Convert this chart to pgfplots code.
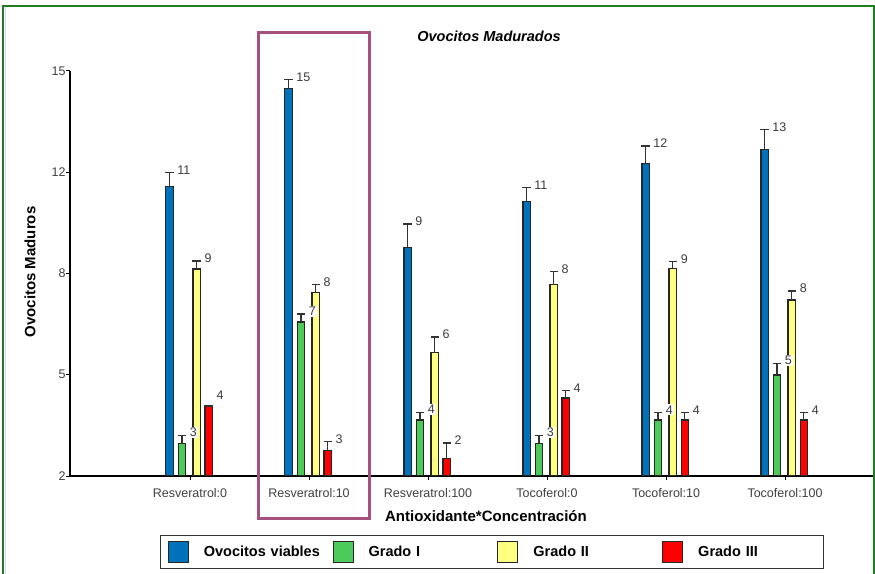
\documentclass[border=0pt]{standalone}
\usepackage{pgfplots}
\usepackage{pgfplotstable}
\pgfplotsset{compat=1.18}
\usepackage{fontspec}
\setmainfont{Liberation Sans}
\definecolor{cblue}{HTML}{0072BC}
\definecolor{cgreen}{HTML}{4CCB5A}
\definecolor{cyellow}{HTML}{FFFF80}
\definecolor{cred}{HTML}{FF0000}
\definecolor{cframe}{HTML}{A5507D}
\definecolor{cborder}{HTML}{1E7D1E}
\definecolor{labgray}{HTML}{3C3C3C}
\definecolor{edge}{HTML}{262626}

\pgfplotstableread{
x y err top lab
0 11.29 0.46 11.75 11
1 14.43 0.29 14.72 15
2 9.34 0.75 10.09 9
3 10.81 0.45 11.26 11
4 12.04 0.55 12.59 12
5 12.49 0.62 13.11 13
}\viables
\pgfplotstableread{
x y err top lab
0 3.05 0.26 3.31 3
1 6.94 0.26 7.20 7
2 3.80 0.25 4.05 4
3 3.05 0.26 3.31 3
4 3.80 0.24 4.04 4
5 5.24 0.38 5.62 5
}\gradoI
\pgfplotstableread{
x y err top lab
0 8.64 0.26 8.90 9
1 7.88 0.27 8.15 8
2 5.96 0.50 6.46 6
3 8.14 0.43 8.57 8
4 8.65 0.23 8.88 9
5 7.65 0.29 7.94 8
}\gradoII
\pgfplotstableread{
x y err top lab
0 4.25 0.00 4.50 4
1 2.81 0.29 3.10 3
2 2.56 0.50 3.06 2
3 4.50 0.25 4.75 4
4 3.80 0.24 4.04 4
5 3.80 0.24 4.04 4
}\gradoIII

\pgfplotsset{
  mybar/.style={ybar, bar width=0.0622, bar shift=#1,
    legend image code/.code={\draw[##1, draw=edge, line width=1.1bp] (0bp,-10.5bp) rectangle (20bp,10.5bp);}},
  myerr/.style={forget plot, draw=none, mark=none,
    /pgfplots/error bars/y dir=plus, /pgfplots/error bars/y explicit,
    /pgfplots/error bars/error bar style={draw=black!80, line width=1.2bp, solid},
    /pgfplots/error bars/error mark options={rotate=90, draw=black!80, line width=1.2bp, mark size=4.3bp}},
  mylab/.style={draw=none, mark=none, forget plot, nodes near coords, point meta=explicit symbolic,
    every node near coord/.append style={anchor=west, xshift=#1, yshift=2.5bp, fill=white,
      inner sep=1.2bp, text=labgray, font=\fontsize{12.5bp}{14bp}\selectfont}},
}

\begin{document}
\begin{tikzpicture}
\useasboundingbox (0,0) rectangle (875bp,574bp);
\begin{axis}[
  at={(70bp,98bp)}, anchor=south west,
  scale only axis, width=803bp, height=405bp,
  xmin=-1.0084, xmax=5.739, ymin=2, ymax=15,
  enlargelimits=false,
  axis lines=left, axis line style={-, black, line width=1.2bp},
  tick align=outside, major tick length=4bp,
  tick style={black, line width=1bp},
  xtick={0,1,2,3,4,5},
  xticklabels={Resveratrol:0,Resveratrol:10,Resveratrol:100,Tocoferol:0,Tocoferol:10,Tocoferol:100},
  ytick={2,5.25,8.5,11.75,15},
  yticklabels={2,5,8,12,15},
  /pgf/number format/assume math mode=true,
  tick label style={font=\fontsize{12.5bp}{14bp}\selectfont, text=black!75},
  xticklabel style={yshift=-5bp},
  yticklabel style={xshift=3bp},
  title={Ovocitos Madurados},
  title style={at={(axis description cs:0.5218,1.0716)}, anchor=center, yshift=0pt,
    font=\fontsize{14.5bp}{17bp}\selectfont\bfseries\itshape},
  xlabel={Antioxidante*Concentración},
  ylabel={Ovocitos Maduros},
  every axis x label/.style={at={(axis description cs:0.518,-0.0988)}, anchor=center,
    font=\fontsize{15bp}{18bp}\selectfont\bfseries},
  every axis y label/.style={at={(axis description cs:-0.0498,0.5037)}, anchor=center, rotate=90,
    font=\fontsize{15bp}{18bp}\selectfont\bfseries},
  legend columns=4,
  legend style={at={(axis description cs:0.5255,-0.1877)}, anchor=center,
    draw=black!80, line width=1.3bp, inner xsep=7bp, inner ysep=5.5bp,
    font=\fontsize{14.5bp}{17bp}\selectfont\bfseries,
    /tikz/every odd column/.append style={column sep=15bp},
    /tikz/every even column/.append style={column sep=10.7bp},
    nodes={inner sep=0pt, text width=118bp}},
]
\addplot[mybar=-0.172, fill=cblue, draw=edge, line width=1.3bp] table[x=x, y=y] {\viables};
\addlegendentry{Ovocitos viables}
\addplot[mybar=-0.067, fill=cgreen, draw=edge, line width=1.3bp] table[x=x, y=y] {\gradoI};
\addlegendentry{Grado I}
\addplot[mybar=0.057, fill=cyellow, draw=edge, line width=1.3bp] table[x=x, y=y] {\gradoII};
\addlegendentry{Grado II}
\addplot[mybar=0.158, fill=cred, draw=edge, line width=1.3bp] table[x=x, y=y] {\gradoIII};
\addlegendentry{Grado III}

\addplot[myerr] table[x expr=\thisrow{x}-0.172, y=y, y error=err] {\viables};
\addplot[myerr] table[x expr=\thisrow{x}-0.067, y=y, y error=err] {\gradoI};
\addplot[myerr] table[x expr=\thisrow{x}+0.057, y=y, y error=err] {\gradoII};
\addplot[myerr] table[x expr=\thisrow{x}+0.158, y=y, y error=err] {\gradoIII};

\addplot[mylab=-14bp] table[x=x, y=top, meta=lab] {\viables};
\addplot[mylab=-1.5bp] table[x=x, y=top, meta=lab] {\gradoI};
\addplot[mylab=13.3bp] table[x=x, y=top, meta=lab] {\gradoII};
\addplot[mylab=25.3bp] table[x=x, y=top, meta=lab] {\gradoIII};
\end{axis}
\draw[cframe, line width=3bp] (258bp,541.5bp) rectangle (369bp,55bp);
\draw[cborder, line width=2bp] (3bp,0bp) -- (3bp,568bp) -- (873.5bp,568bp) -- (873.5bp,0bp);
\draw[blue!15, line width=1.2bp] (5.5bp,0bp) -- (5.5bp,566.5bp);
\end{tikzpicture}
\end{document}
